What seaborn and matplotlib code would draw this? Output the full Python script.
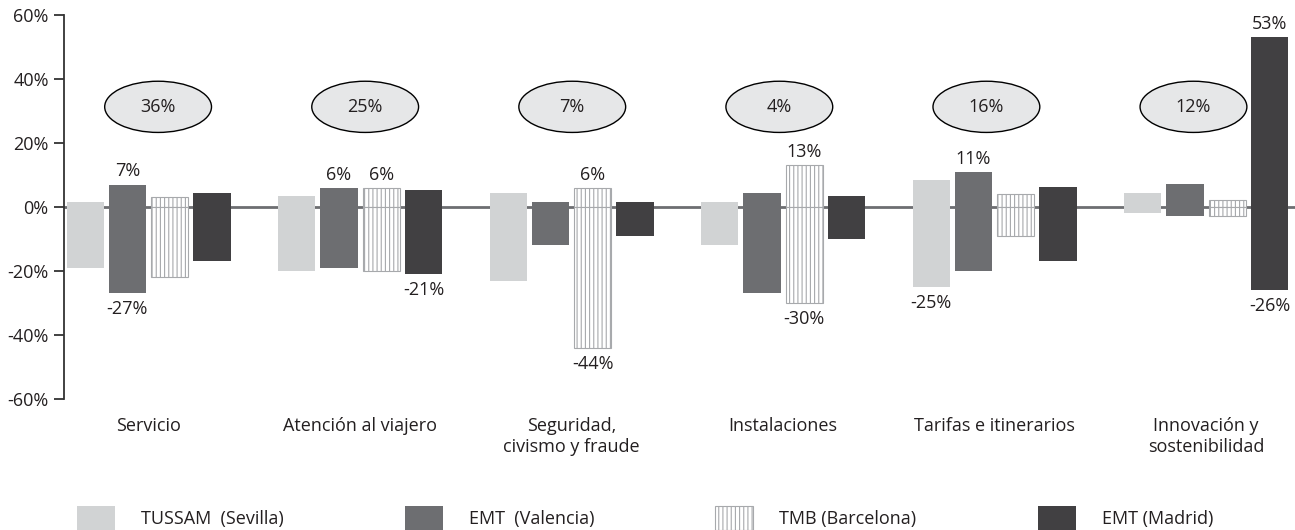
import pandas as pd
import matplotlib
matplotlib.use("Agg")
import matplotlib.pyplot as plt
from matplotlib.patches import Ellipse
import seaborn as sns

# datos
categorias = ["Servicio", "Atención al viajero", "Seguridad,\ncivismo y fraude",
              "Instalaciones", "Tarifas e itinerarios", "Innovación y\nsostenibilidad"]
operadores = ["TUSSAM  (Sevilla)", "EMT  (Valencia)", "TMB (Barcelona)", "EMT (Madrid)"]

tussam_max = [1.5, 3.3, 4.3, 1.5, 8.4, 4.3]
tussam_min = [-19, -20, -23, -12, -25, -2]
valencia_max = [7, 6, 1.5, 4.3, 11, 7.1]
valencia_min = [-27, -19, -12, -27, -20, -2.9]
tmb_max = [3.1, 6, 6, 13, 4.2, 2.3]
tmb_min = [-22, -20, -44, -30, -9, -2.9]
madrid_max = [4.3, 5.2, 1.5, 3.3, 6.2, 53]
madrid_min = [-17, -21, -9, -10, -17, -26]

pesos = [36, 25, 7, 4, 16, 12]

# barras con etiqueta: (categoria, operador, extremo)
etiquetas = [(0, 1, "max"), (0, 1, "min"), (1, 1, "max"), (1, 2, "max"), (1, 3, "min"),
             (2, 2, "max"), (2, 2, "min"), (3, 2, "max"), (3, 2, "min"),
             (4, 1, "max"), (4, 0, "min"), (5, 3, "max"), (5, 3, "min")]

colores = ["#d1d3d4", "#6d6e71", "#ffffff", "#414042"]

maximos = [tussam_max, valencia_max, tmb_max, madrid_max]
minimos = [tussam_min, valencia_min, tmb_min, madrid_min]
filas = []
for i, op in enumerate(operadores):
    for j, cat in enumerate(categorias):
        filas.append({"categoria": cat, "operador": op,
                      "max": maximos[i][j], "min": minimos[i][j]})
df = pd.DataFrame(filas)

sns.set_style("white")
plt.rcParams["font.family"] = ["Open Sans", "DejaVu Sans"]
plt.rcParams["hatch.linewidth"] = 0.8
texto = "#231f20"
fs = 13

fig = plt.figure(figsize=(12.95, 5.3), dpi=100)
ax = fig.add_axes([0.0494, 0.2472, 0.9506, 0.7245])

ax.axhline(0, color="#6d6e71", lw=2, zorder=0)

for col in ["max", "min"]:
    sns.barplot(data=df, x="categoria", y=col, hue="operador", order=categorias,
                hue_order=operadores, palette=colores, saturation=1, width=0.8,
                gap=0.12, errorbar=None, legend=False, ax=ax, zorder=2)

for k, cont in enumerate(ax.containers):
    i = k % 4
    for p in cont.patches:
        if i == 2:
            p.set_hatch("||||")
            p.set_edgecolor("#a7a9ac")
            p.set_linewidth(0.8)
        else:
            p.set_edgecolor("none")
            p.set_linewidth(0)

# etiquetas de valores
for j, i, ext in etiquetas:
    if ext == "max":
        p = ax.containers[i].patches[j]
        v = maximos[i][j]
        ax.annotate(f"{v:.0f}%", (p.get_x() + p.get_width() / 2, v), xytext=(0, 3),
                    textcoords="offset points", ha="center", va="bottom",
                    fontsize=fs, color=texto)
    else:
        p = ax.containers[4 + i].patches[j]
        v = minimos[i][j]
        ax.annotate(f"{v:.0f}%", (p.get_x() + p.get_width() / 2, v), xytext=(0, -5),
                    textcoords="offset points", ha="center", va="top",
                    fontsize=fs, color=texto)

# elipses con el peso de cada categoria
for j, peso in enumerate(pesos):
    xc = 0.045 + 0.979 * j
    ax.add_patch(Ellipse((xc, 31.3), 0.505, 16, facecolor="#e6e7e8",
                         edgecolor="black", lw=1, zorder=3))
    ax.text(xc, 31.3, f"{peso}%", ha="center", va="center", fontsize=fs,
            color=texto, zorder=4)

ax.set_ylim(-60, 60)
ax.set_xlim(-0.4, 5.42)
ax.set_yticks([-60, -40, -20, 0, 20, 40, 60])
ax.set_yticklabels([f"{t}%" for t in [-60, -40, -20, 0, 20, 40, 60]])
ax.set_xlabel("")
ax.set_ylabel("")
ax.tick_params(axis="y", direction="out", length=7, width=1.3, color="#333333",
               labelsize=fs, labelcolor=texto, pad=4, left=True)
ax.tick_params(axis="x", length=0, labelsize=fs, labelcolor=texto, pad=13)
for s in ["top", "right", "bottom"]:
    ax.spines[s].set_visible(False)
ax.spines["left"].set_color("#333333")
ax.spines["left"].set_linewidth(1.3)

handles = [ax.containers[i].patches[0] for i in range(4)]
fig.legend(handles, operadores, loc="center left", bbox_to_anchor=(77 / 1295, 1 - 518 / 530),
           ncol=4, frameon=False, fontsize=fs, handlelength=2.1, handleheight=1.65,
           handletextpad=1.45, columnspacing=6.7, borderpad=0, borderaxespad=0,
           labelcolor=texto)

plt.savefig("out.png", dpi=100)
